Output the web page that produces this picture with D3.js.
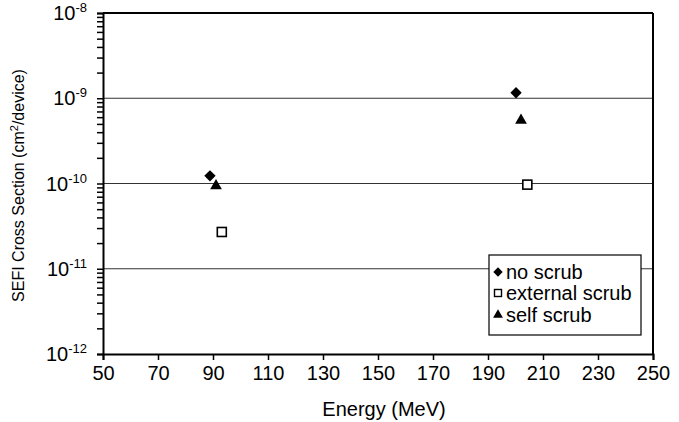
<!DOCTYPE html>
<html>
<head>
<meta charset="utf-8">
<script src="https://cdn.jsdelivr.net/npm/d3@7"></script>
<style>
  body { margin: 0; background: #fff; }
  svg { font-family: "Liberation Sans", Arial, Helvetica, sans-serif; }
</style>
</head>
<body>
<svg id="chart" width="679" height="422"></svg>
<script>
// energies (MeV) and SEFI cross sections (cm2/device)
const seriesNames = ["no scrub", "external scrub", "self scrub"];
const energyNoScrub = [88.9, 200.2];
const sefiNoScrub = [1.23e-10, 1.16e-9];
const energyExternal = [93.2, 204.3];
const sefiExternal = [2.7e-11, 9.7e-11];
const energySelf = [91.1, 202.0];
const sefiSelf = [9.4e-11, 5.5e-10];

const xTicks = [50, 70, 90, 110, 130, 150, 170, 190, 210, 230, 250];
const yExponents = [-12, -11, -10, -9, -8];

const margin = { top: 13, right: 26, bottom: 68, left: 103 };
const width = 679;
const height = 422;

const x = d3.scaleLinear()
  .domain([50, 250])
  .range([margin.left, width - margin.right]);
const y = d3.scaleLog()
  .domain([1e-12, 1e-8])
  .range([height - margin.bottom, margin.top]);

const svg = d3.select("#chart");

// gridlines at inner decades
svg.append("g")
  .selectAll("line")
  .data(yExponents.slice(1, -1))
  .join("line")
  .attr("x1", x(50))
  .attr("x2", x(250))
  .attr("y1", d => y(Math.pow(10, d)))
  .attr("y2", d => y(Math.pow(10, d)))
  .attr("stroke", "#333")
  .attr("stroke-width", 1);

// minor + major ticks on y
const yTickVals = [];
yExponents.forEach((e, i) => {
  if (i < yExponents.length - 1) {
    for (let m = 1; m < 10; m++) yTickVals.push(m * Math.pow(10, e));
  } else {
    yTickVals.push(Math.pow(10, e));
  }
});

const yAxis = svg.append("g")
  .attr("transform", `translate(${margin.left},0)`)
  .call(d3.axisLeft(y).tickValues(yTickVals).tickSize(6).tickFormat(""));
yAxis.select(".domain").attr("stroke-width", 2).attr("stroke", "#000");
yAxis.selectAll(".tick line").attr("stroke-width", 1.5);

// y tick labels: 10 with superscript exponent
const yLab = svg.append("g")
  .selectAll("text")
  .data(yExponents)
  .join("text")
  .attr("x", 87)
  .attr("y", d => y(Math.pow(10, d)) + 7)
  .attr("text-anchor", "end")
  .attr("font-size", 20)
  .attr("fill", "#000");
yLab.append("tspan").text("10");
yLab.append("tspan")
  .attr("dy", -8)
  .attr("font-size", 13)
  .text(d => d);

const xAxis = svg.append("g")
  .attr("transform", `translate(0,${y(1e-12)})`)
  .call(d3.axisBottom(x).tickValues(xTicks).tickSize(6).tickPadding(6));
xAxis.select(".domain").attr("stroke-width", 2).attr("stroke", "#000");
xAxis.selectAll(".tick line").attr("stroke-width", 1.5);
xAxis.selectAll(".tick text")
  .attr("font-size", 20)
  .attr("fill", "#000")
  .attr("font-family", "Liberation Sans, Arial, sans-serif");

// top and right frame
svg.append("line")
  .attr("x1", x(50)).attr("x2", x(250))
  .attr("y1", y(1e-8)).attr("y2", y(1e-8))
  .attr("stroke", "#000").attr("stroke-width", 2);
svg.append("line")
  .attr("x1", x(250)).attr("x2", x(250))
  .attr("y1", y(1e-8)).attr("y2", y(1e-12))
  .attr("stroke", "#000").attr("stroke-width", 2);

// axis titles
svg.append("text")
  .attr("x", (x(50) + x(250)) / 2 + 6)
  .attr("y", 416)
  .attr("text-anchor", "middle")
  .attr("font-size", 20)
  .text("Energy (MeV)");

const yTitle = svg.append("text")
  .attr("transform", `translate(24,${(y(1e-8) + y(1e-12)) / 2 + 2}) rotate(-90)`)
  .attr("text-anchor", "middle")
  .attr("font-size", 16);
yTitle.append("tspan").text("SEFI Cross Section (cm");
yTitle.append("tspan").attr("dy", -6).attr("font-size", 11).text("2");
yTitle.append("tspan").attr("dy", 6).text("/device)");

// markers (diamond = square turned 45 degrees)
const diamond = d3.symbol().type(d3.symbolSquare).size(64);
const triangle = d3.symbol().type(d3.symbolTriangle).size(60);

const marks = svg.append("g");

marks.selectAll("path.noscrub")
  .data(energyNoScrub.map((e, i) => [e, sefiNoScrub[i]]))
  .join("path")
  .attr("class", "noscrub")
  .attr("d", diamond)
  .attr("transform", d => `translate(${x(d[0])},${y(d[1])}) rotate(45)`)
  .attr("fill", "#000");

marks.selectAll("rect.external")
  .data(energyExternal.map((e, i) => [e, sefiExternal[i]]))
  .join("rect")
  .attr("class", "external")
  .attr("x", d => x(d[0]) - 4.5)
  .attr("y", d => y(d[1]) - 4.5)
  .attr("width", 9)
  .attr("height", 9)
  .attr("fill", "#fff")
  .attr("stroke", "#000")
  .attr("stroke-width", 1.6);

marks.selectAll("path.self")
  .data(energySelf.map((e, i) => [e, sefiSelf[i]]))
  .join("path")
  .attr("class", "self")
  .attr("d", triangle)
  .attr("transform", d => `translate(${x(d[0])},${y(d[1])})`)
  .attr("fill", "#000");

// legend
const legend = svg.append("g").attr("transform", "translate(489,255)");
legend.append("rect")
  .attr("width", 152)
  .attr("height", 80)
  .attr("fill", "#fff")
  .attr("stroke", "#000")
  .attr("stroke-width", 1.2);

const legendY = [17, 38, 60];
seriesNames.forEach((name, i) => {
  const g = legend.append("g").attr("transform", `translate(9,${legendY[i]})`);
  if (i === 0) {
    g.append("path").attr("d", d3.symbol().type(d3.symbolSquare).size(44))
      .attr("transform", "rotate(45)").attr("fill", "#000");
  } else if (i === 1) {
    g.append("rect").attr("x", -3.5).attr("y", -3.5).attr("width", 7).attr("height", 7)
      .attr("fill", "#fff").attr("stroke", "#000").attr("stroke-width", 1.4);
  } else {
    g.append("path").attr("d", d3.symbol().type(d3.symbolTriangle).size(42)).attr("fill", "#000");
  }
  g.append("text")
    .attr("x", 8)
    .attr("y", 7)
    .attr("font-size", 20)
    .text(name);
});
</script>
</body>
</html>
